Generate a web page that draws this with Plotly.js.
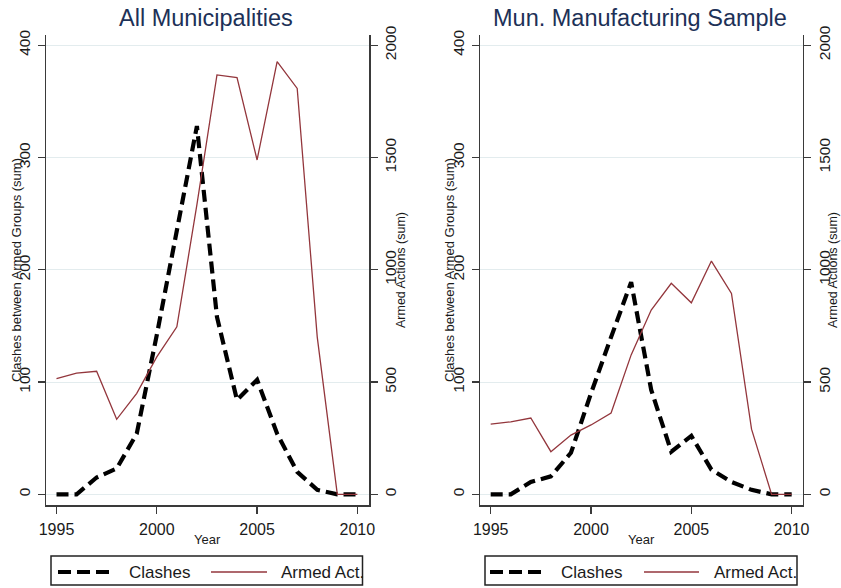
<!DOCTYPE html>
<html>
<head>
<meta charset="utf-8">
<script src="https://cdn.plot.ly/plotly-3.0.1.min.js"></script>
<style>
  html, body { margin: 0; padding: 0; background: #ffffff; }
  #chart { width: 841px; height: 588px; }
</style>
</head>
<body>
<div id="chart"></div>
<script>
// ---- Data ----
const years = [1995, 1996, 1997, 1998, 1999, 2000, 2001, 2002, 2003, 2004, 2005, 2006, 2007, 2008, 2009, 2010];

// Panel 1: All Municipalities
const clashesAll = [0, 0, 15, 23, 54, 142, 235, 328, 158, 84, 102, 54, 20, 4, 0, 0];
const armedAll   = [515, 540, 548, 334, 450, 612, 746, 1290, 1868, 1856, 1489, 1927, 1808, 700, 0, 0];

// Panel 2: Mun. Manufacturing Sample
const clashesMfg = [0, 0, 11, 16, 37, 90, 140, 189, 93, 38, 52, 22, 11, 4, 0, 0];
const armedMfg   = [313, 323, 340, 190, 264, 309, 362, 621, 821, 940, 853, 1039, 895, 290, 0, 0];

// Labels
const panelTitles = ["All Municipalities", "Mun. Manufacturing Sample"];
const leftAxisTitle = "Clashes between Armed Groups (sum)";
const rightAxisTitle = "Armed Actions (sum)";
const xAxisTitle = "Year";
const seriesNames = ["Clashes", "Armed Act."];
const xTicks = [1995, 2000, 2005, 2010];
const leftTicks = [0, 100, 200, 300, 400];
const rightTicks = [0, 500, 1000, 1500, 2000];

// ---- Styling / geometry ----
const W = 841, H = 588;
const FONT = '"Liberation Sans", Arial, sans-serif';
const AXIS_COL = '#3a3a3a';
const TXT_COL = '#1a1a1a';
const TITLE_COL = '#1d3157';
const GRID_COL = '#e3ecee';
const RED = '#93363c';
const px = v => v / W;
const py = v => 1 - v / H;

const yDom = [py(505), py(34.7)];
const panels = [
  { x0: 46, x1: 369, xr: [1994.476, 2010.58] },
  { x0: 480, x1: 802.7, xr: [1994.467, 2010.55] }
];
const leftRange = [-9.5, 409.4];
const rightRange = [-47.5, 2047];

function xAxis(p, anchor) {
  return {
    domain: [px(p.x0), px(p.x1)], range: p.xr, anchor: anchor,
    tickmode: 'array', tickvals: xTicks, ticktext: xTicks.map(String),
    ticks: 'outside', ticklen: 7, tickwidth: 1.3, tickcolor: AXIS_COL,
    showline: true, linecolor: AXIS_COL, linewidth: 1.5,
    showgrid: false, zeroline: false, fixedrange: true,
    tickfont: { family: FONT, size: 16, color: TXT_COL }, ticklabelstandoff: 2
  };
}
function yLeft(anchor) {
  return {
    domain: yDom, range: leftRange, anchor: anchor,
    tickmode: 'array', tickvals: leftTicks, ticktext: leftTicks.map(String),
    tickangle: -90, ticks: 'outside', ticklen: 7, tickwidth: 1.3, tickcolor: AXIS_COL,
    showline: true, linecolor: AXIS_COL, linewidth: 1.5,
    showgrid: true, gridcolor: GRID_COL, gridwidth: 1, zeroline: false, fixedrange: true,
    tickfont: { family: FONT, size: 15.5, color: TXT_COL }, ticklabelstandoff: 1
  };
}
function yRight(anchor, over) {
  return {
    domain: yDom, range: rightRange, anchor: anchor, overlaying: over, side: 'right',
    tickmode: 'array', tickvals: rightTicks, ticktext: rightTicks.map(String),
    tickangle: -90, ticks: 'outside', ticklen: 7, tickwidth: 1.3, tickcolor: AXIS_COL,
    showline: true, linecolor: AXIS_COL, linewidth: 1.5,
    showgrid: false, zeroline: false, fixedrange: true,
    tickfont: { family: FONT, size: 15.5, color: TXT_COL }
  };
}

const dashLine = { color: '#000000', width: 4.2, dash: '12px,6px' };
const redLine = { color: RED, width: 1.3 };

const traces = [
  { x: years, y: clashesAll, xaxis: 'x', yaxis: 'y', mode: 'lines', line: dashLine, name: seriesNames[0], showlegend: false },
  { x: years, y: armedAll, xaxis: 'x', yaxis: 'y2', mode: 'lines', line: redLine, name: seriesNames[1], showlegend: false },
  { x: years, y: clashesMfg, xaxis: 'x2', yaxis: 'y3', mode: 'lines', line: dashLine, name: seriesNames[0], showlegend: false },
  { x: years, y: armedMfg, xaxis: 'x2', yaxis: 'y4', mode: 'lines', line: redLine, name: seriesNames[1], showlegend: false }
];

const annotations = [];
const shapes = [];
function addText(text, x, y, size, color, opts) {
  annotations.push(Object.assign({
    text: text, x: px(x), y: py(y), xref: 'paper', yref: 'paper',
    showarrow: false, xanchor: 'center', yanchor: 'middle',
    font: { family: FONT, size: size, color: color }
  }, opts || {}));
}

// Panel titles
addText(panelTitles[0], 206, 18, 23.5, TITLE_COL);
addText(panelTitles[1], 640, 18, 23.5, TITLE_COL);
// Axis titles
addText(leftAxisTitle, 16, 270, 13, TXT_COL, { textangle: -90 });
addText(rightAxisTitle, 401, 270, 12.5, TXT_COL, { textangle: -90 });
addText(leftAxisTitle, 449, 270, 13, TXT_COL, { textangle: -90 });
addText(rightAxisTitle, 833, 270, 12.5, TXT_COL, { textangle: -90 });
addText(xAxisTitle, 207, 539, 13, TXT_COL);
addText(xAxisTitle, 641, 539, 13, TXT_COL);

// Legends (one per panel)
const legends = [
  { bx0: 51, bx1: 362.5, s1: [58, 110], t1: 127, s2: [211, 267], t2: 279 },
  { bx0: 485, bx1: 797, s1: [490, 545], t1: 559, s2: [644, 699], t2: 712 }
];
legends.forEach(L => {
  const ly = 572;
  shapes.push({ type: 'line', xref: 'paper', yref: 'paper', x0: px(L.s1[0]), x1: px(L.s1[1]), y0: py(ly), y1: py(ly),
    line: { color: '#000', width: 4.2, dash: '13px,6px' } });
  shapes.push({ type: 'line', xref: 'paper', yref: 'paper', x0: px(L.s2[0]), x1: px(L.s2[1]), y0: py(ly), y1: py(ly),
    line: { color: RED, width: 1.3 } });
  addText(seriesNames[0], L.t1, ly, 17, TXT_COL, { xanchor: 'left' });
  addText(seriesNames[1], L.t2, ly, 17, TXT_COL, { xanchor: 'left' });
  shapes.push({ type: 'rect', xref: 'paper', yref: 'paper', x0: px(L.bx0), x1: px(L.bx1), y0: py(585), y1: py(556),
    line: { color: '#222', width: 1.5 }, fillcolor: 'rgba(0,0,0,0)' });
});

const layout = {
  width: W, height: H, autosize: false,
  margin: { l: 0, r: 0, t: 0, b: 0, pad: 0 },
  paper_bgcolor: '#ffffff', plot_bgcolor: '#ffffff',
  showlegend: false,
  font: { family: FONT, color: TXT_COL },
  xaxis: xAxis(panels[0], 'y'),
  yaxis: yLeft('x'),
  yaxis2: yRight('x', 'y'),
  xaxis2: xAxis(panels[1], 'y3'),
  yaxis3: yLeft('x2'),
  yaxis4: yRight('x2', 'y3'),
  annotations: annotations,
  shapes: shapes
};

Plotly.newPlot('chart', traces, layout, { staticPlot: true, displayModeBar: false });
</script>
</body>
</html>
